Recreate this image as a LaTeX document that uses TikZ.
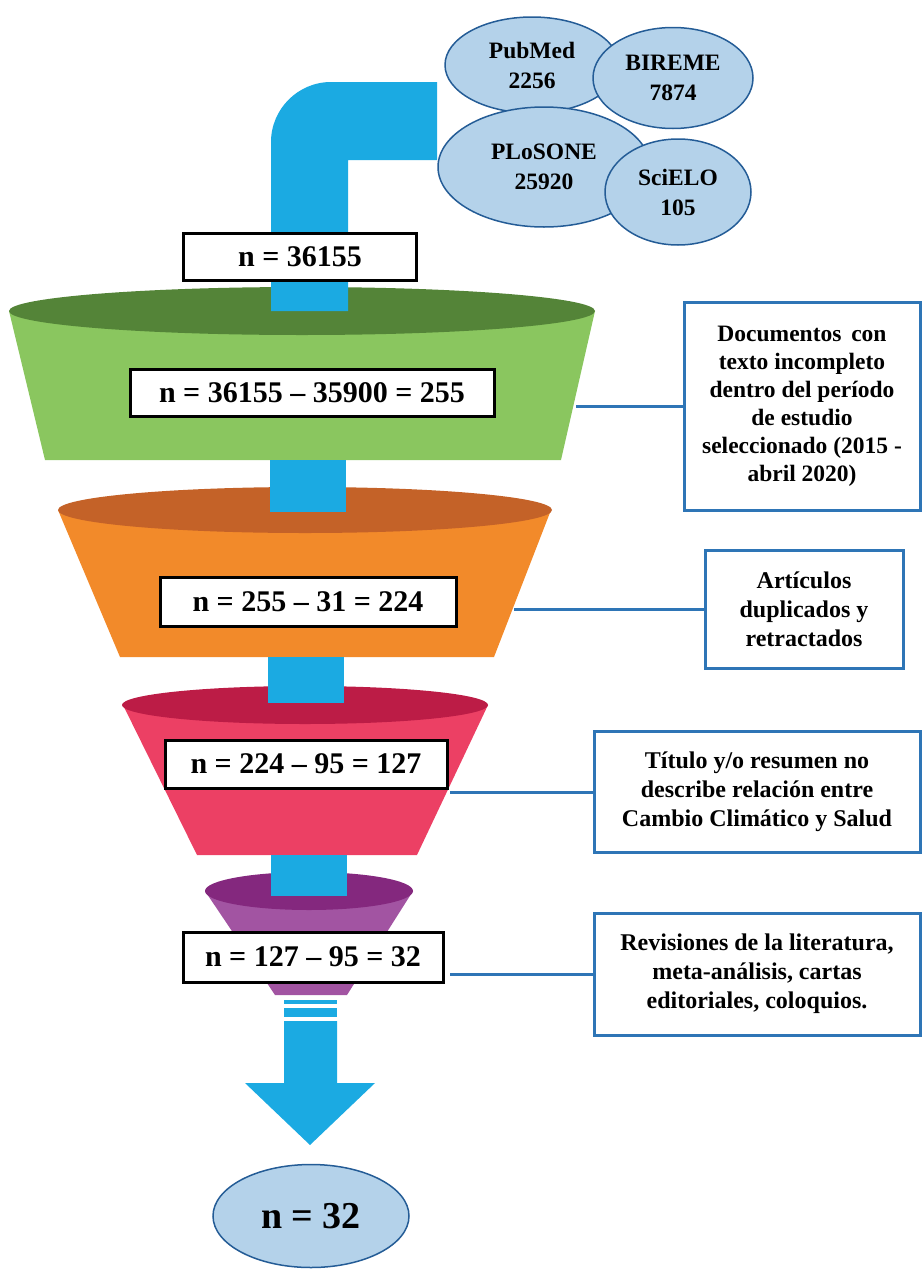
\documentclass[tikz,border=0pt]{standalone}
\usepackage{fontspec}
\setmainfont{Liberation Serif}
\usetikzlibrary{shapes.geometric}
\definecolor{pipeblue}{RGB}{27,170,226}
\definecolor{greenbody}{RGB}{138,198,95}
\definecolor{greentop}{RGB}{84,132,56}
\definecolor{orangebody}{RGB}{242,138,42}
\definecolor{orangetop}{RGB}{196,98,40}
\definecolor{redbody}{RGB}{236,64,100}
\definecolor{redtop}{RGB}{188,28,70}
\definecolor{purplebody}{RGB}{162,84,162}
\definecolor{purpletop}{RGB}{132,40,126}
\definecolor{ellfill}{RGB}{180,210,234}
\definecolor{ellborder}{RGB}{36,92,150}
\definecolor{boxblue}{RGB}{46,117,182}
\begin{document}
\begin{tikzpicture}[x=1pt,y=-1pt,
  nbox/.style={draw=black, line width=3pt, fill=white, font=\bfseries\fontsize{30}{34}\selectfont, inner sep=0pt, minimum height=47pt},
  srcell/.style={ellipse, draw=ellborder, line width=1.5pt, fill=ellfill, font=\bfseries\fontsize{23.5}{30}\selectfont, align=center, inner sep=0pt},
  rbox/.style={draw=boxblue, line width=3pt, fill=white, font=\bfseries\fontsize{24}{29}\selectfont, align=center, inner sep=0pt},
  link/.style={draw=boxblue, line width=3pt},
  stem/.style={fill=pipeblue}]
\useasboundingbox (0,0) rectangle (922,1269);
% funnels
\fill[greenbody] (9,311) -- (595,311) -- (561,460) -- (45,460) -- cycle;
\fill[greentop] (302,311) ellipse [x radius=293, y radius=24];
\fill[orangebody] (58,510) -- (551,510) -- (494,657) -- (120,657) -- cycle;
\fill[orangetop] (305,510) ellipse [x radius=247, y radius=23];
\fill[redbody] (123,705) -- (488,705) -- (417,855) -- (197,855) -- cycle;
\fill[redtop] (305,705) ellipse [x radius=183, y radius=19];
\fill[purplebody] (205,891) -- (413,891) -- (347,995) -- (275,995) -- cycle;
\fill[purpletop] (309,891) ellipse [x radius=104, y radius=19];
% pipe and stems
\fill[stem] (271,311) -- (271,142) .. controls (271,109) and (298,82) .. (331,82) -- (437,82) -- (437,160) -- (348,160) -- (348,311) -- cycle;
\fill[stem] (270,460) rectangle (346,512);
\fill[stem] (268,657) rectangle (344,703);
\fill[stem] (271,855) rectangle (347,896);
% bottom arrow
\fill[stem] (284,1000) rectangle (337,1004);
\fill[stem] (284,1008) rectangle (337,1017);
\fill[stem] (284,1021) -- (337,1021) -- (337,1083) -- (375,1083) -- (310,1145) -- (245,1083) -- (284,1083) -- cycle;
% source ellipses
\node[srcell, minimum width=174pt, minimum height=96pt] (pubmed) at (532,65) {PubMed\\2256};
\node[srcell, minimum width=160pt, minimum height=101pt] (bireme) at (673,78) {BIREME\\7874};
\node[srcell, minimum width=212pt, minimum height=120pt] (plos) at (544,167) {PLoSONE\\25920};
\node[srcell, minimum width=146pt, minimum height=106pt] (scielo) at (678,192) {SciELO\\105};
% count boxes
\node[nbox, minimum width=233pt] (n0) at (300,257) {n = 36155};
\node[nbox, minimum width=364pt] (n1) at (312,393) {n = 36155 -- 35900 = 255};
\node[nbox, minimum width=296pt, minimum height=49pt] (n2) at (308,602) {n = 255 -- 31 = 224};
\node[nbox, minimum width=282pt, minimum height=48pt] (n3) at (306,764) {n = 224 -- 95 = 127};
\node[nbox, minimum width=260pt, minimum height=50pt] (n4) at (313,957) {n = 127 -- 95 = 32};
% final
\node[srcell, minimum width=196pt, minimum height=103pt, font=\bfseries\fontsize{38}{42}\selectfont] (final) at (311,1216) {n = 32};
% right boxes
\node[rbox, minimum width=236pt, minimum height=208pt, font=\bfseries\fontsize{23.5}{28}\selectfont] (r1) at (802,406) {Documentos\, con\\texto incompleto\\dentro del período\\de estudio\\seleccionado (2015 -\\abril 2020)};
\node[rbox, minimum width=198pt, minimum height=118pt] (r2) at (804,609) {Artículos\\duplicados y\\retractados};
\node[rbox, minimum width=326pt, minimum height=121pt] (r3) at (757,792) {Título y/o resumen no\\describe relación entre\\Cambio Climático y Salud};
\node[rbox, minimum width=326pt, minimum height=122pt] (r4) at (757,974) {Revisiones de la literatura,\\meta-análisis, cartas\\editoriales, coloquios.};
% connectors
\coordinate (c1) at (576,406);
\coordinate (c2) at (514,609);
\coordinate (c3) at (450,792);
\coordinate (c4) at (450,974);
\draw[link] (c1) -- (r1.west);
\draw[link] (c2) -- (r2.west);
\draw[link] (c3) -- (r3.west);
\draw[link] (c4) -- (r4.west);
\end{tikzpicture}
\end{document}
